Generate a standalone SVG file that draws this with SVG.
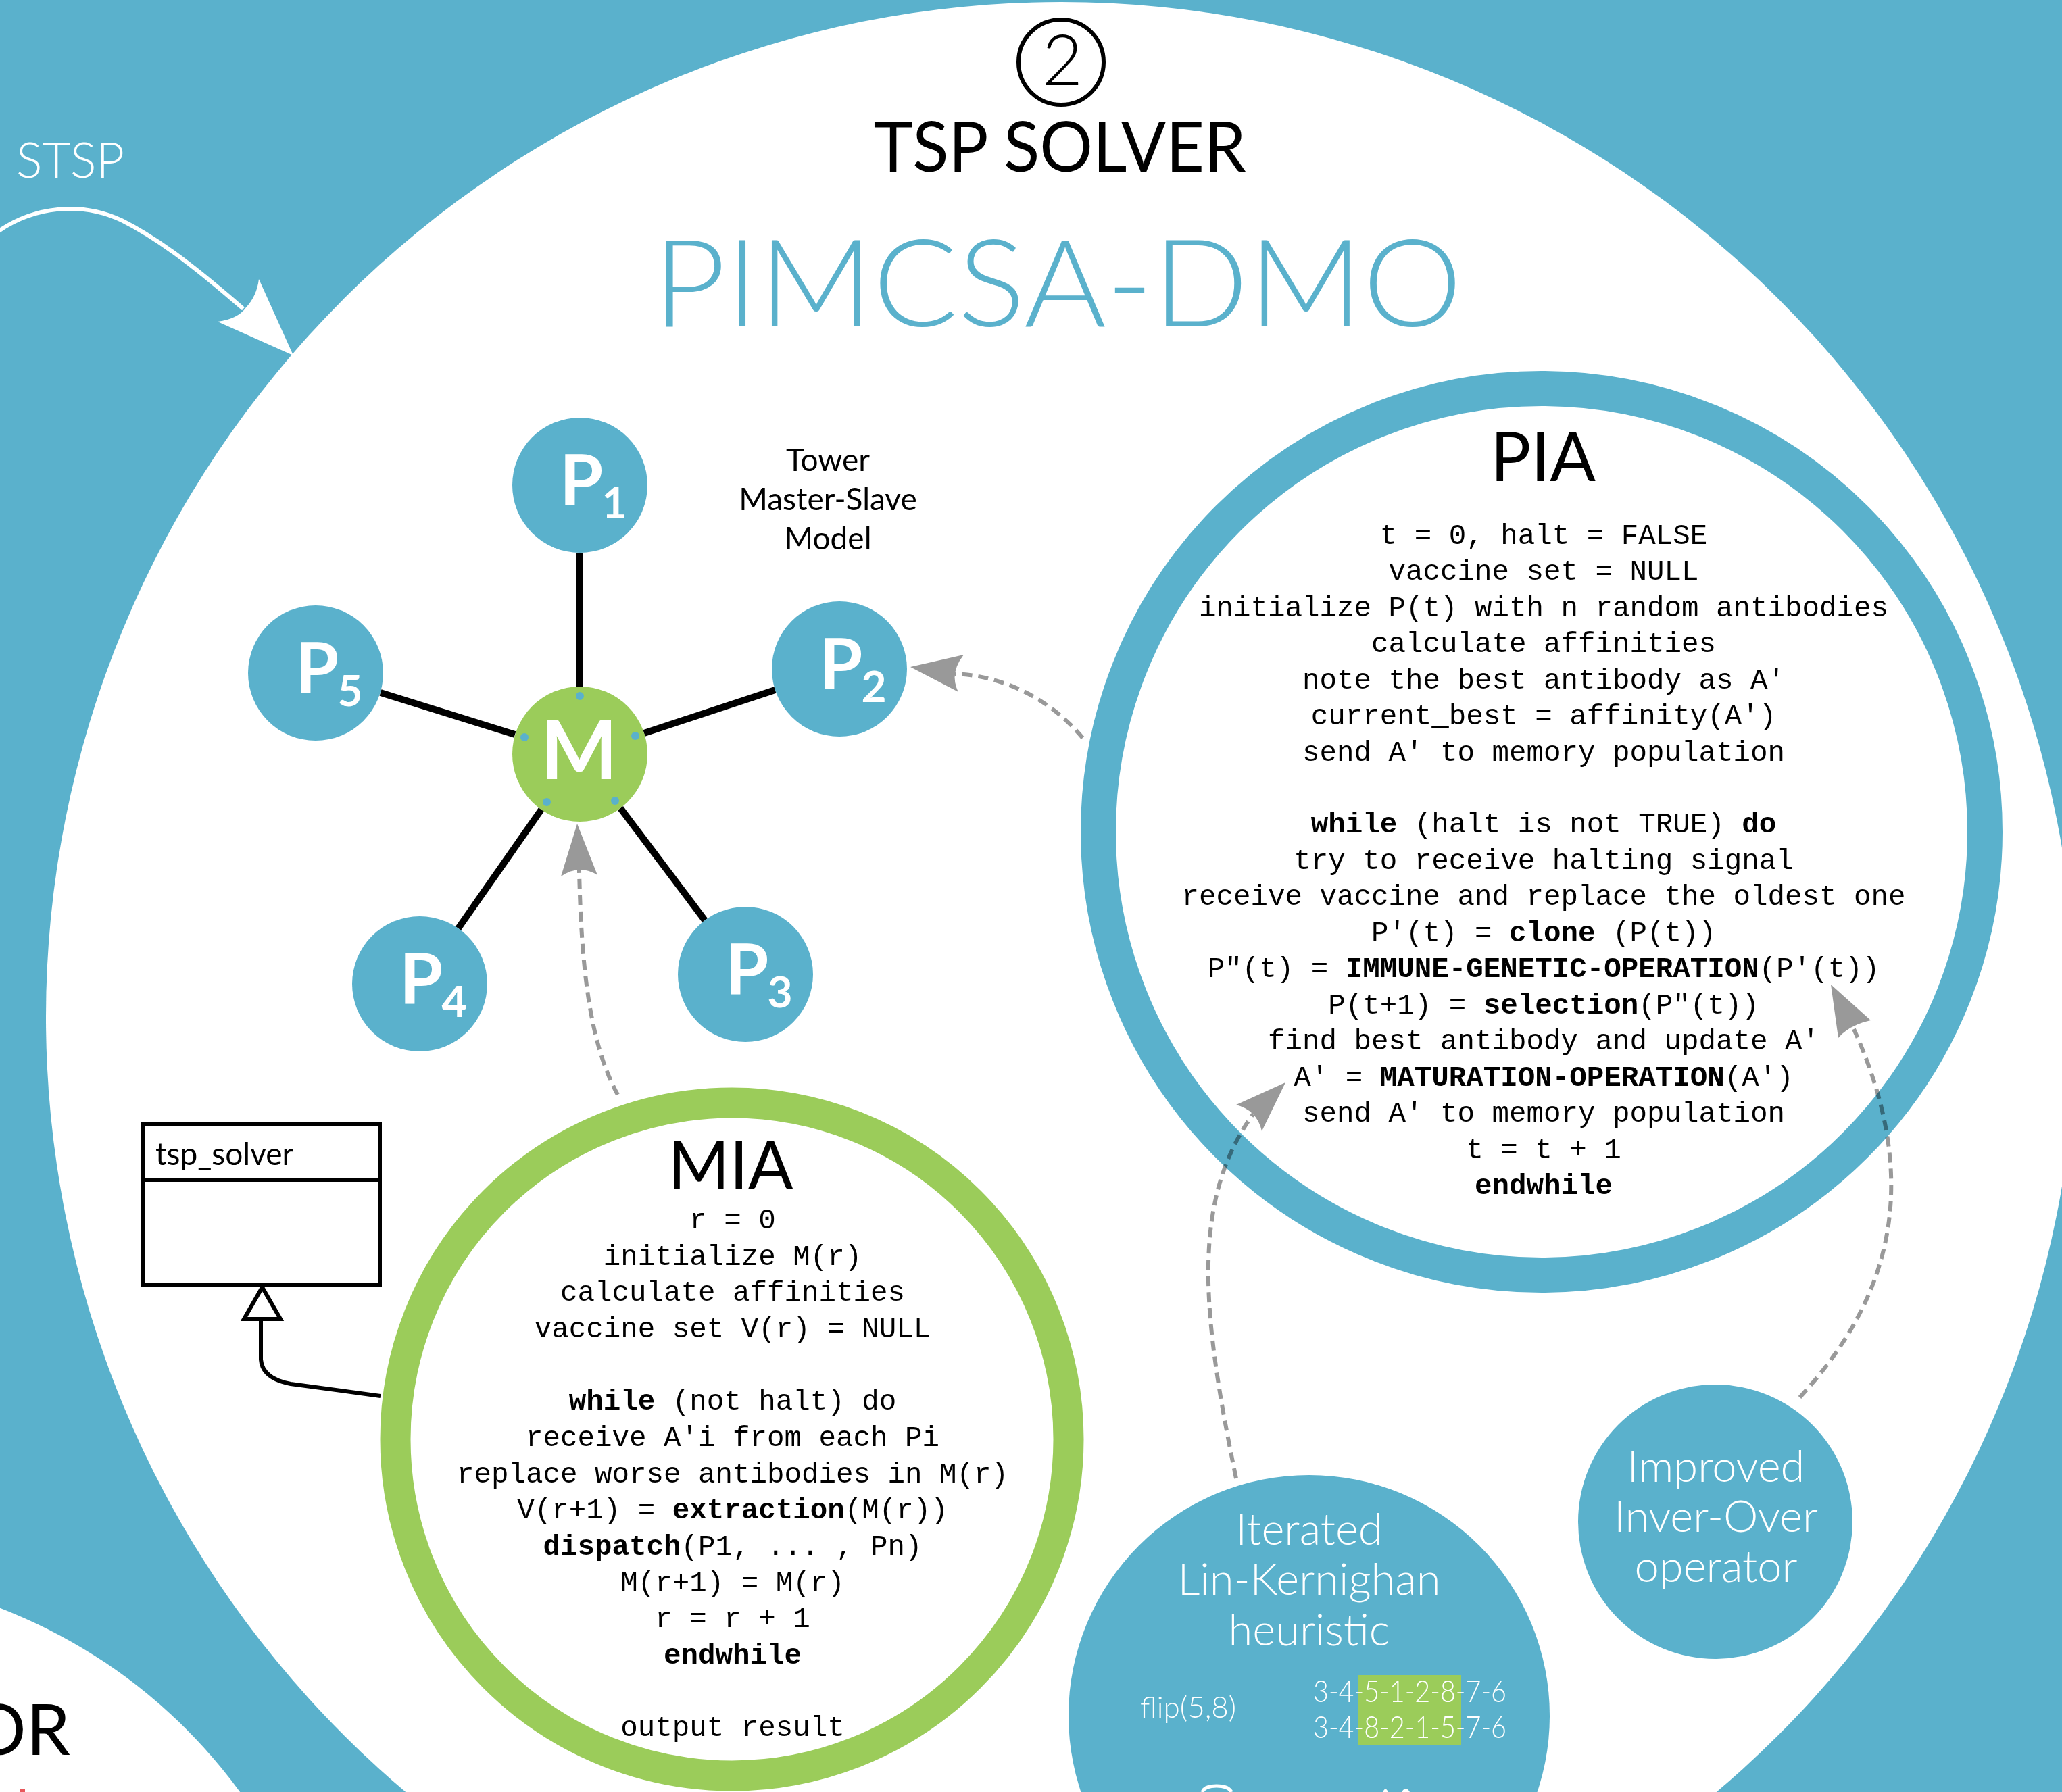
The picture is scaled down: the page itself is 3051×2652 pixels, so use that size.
<svg xmlns="http://www.w3.org/2000/svg" width="3051" height="2652" viewBox="0 0 3051 2652">
<style>
.sans{font-family:Lato,"Open Sans","Liberation Sans",sans-serif}
.light{font-weight:300}
.code{font-family:"Liberation Mono","Courier New",monospace;font-size:42.5px;fill:#000;text-anchor:middle}
.b{font-weight:bold}
.pnode{fill:#5AB1CC}
.plabel{font-family:Lato,"Open Sans","Liberation Sans",sans-serif;font-weight:700;fill:#fff}
.hub{stroke:#000;stroke-width:10;fill:none}
.dash{stroke:#999;stroke-width:6;stroke-dasharray:15 9;fill:none}
.head{fill:#999}
.dot{fill:#5AB1CC}
.wtxt{fill:#fff;text-anchor:middle;font-size:65px}
</style>
<!-- background -->
<rect x="0" y="0" width="3051" height="2652" fill="#5AB1CC"/>
<circle cx="1570" cy="1505" r="1502" fill="#fff"/>
<circle cx="-284" cy="3118" r="791" fill="#fff"/>
<rect x="29" y="2648" width="8" height="4" fill="#E8585C"/>

<!-- STSP input -->
<g id="stsp">
<text x="24" y="263" class="sans light" font-size="72" fill="#fff">STSP</text>
<path d="M-5,344 C50,305 120,298 180,326 C240,356 300,405 360,457" stroke="#fff" stroke-width="6" fill="none"/>
<path d="M434,526 L322,476 Q352,472 364,455 Q380,438 383,413 Z" fill="#fff"/>
</g>

<!-- bottom-left partial label -->
<text x="104" y="2597" class="sans" font-size="104" fill="#000" text-anchor="end">OR</text>

<!-- title -->
<g id="title">
<circle cx="1570" cy="92" r="63" fill="none" stroke="#000" stroke-width="6"/>
<text x="1572" y="126" class="sans light" font-size="104" text-anchor="middle" fill="#000">2</text>
<text x="1568" y="254" class="sans" font-size="103" text-anchor="middle" fill="#000" textLength="551" lengthAdjust="spacingAndGlyphs">TSP SOLVER</text>
<text x="1565" y="483" class="sans light" font-size="180" text-anchor="middle" fill="#5AB1CC" textLength="1197" lengthAdjust="spacingAndGlyphs">PIMCSA-DMO</text>
</g>

<!-- tower model label -->
<g id="tower_label">
<text class="sans" font-size="46" text-anchor="middle" fill="#000"><tspan x="1225" y="697">Tower</tspan><tspan x="1225" y="755">Master-Slave</tspan><tspan x="1225" y="813">Model</tspan></text>
</g>

<!-- hub connectors (master-slave links) -->
<g id="hub_links">
<line class="hub" x1="858" y1="818" x2="858" y2="1016"/>
<line class="hub" x1="953" y1="1085" x2="1147" y2="1021"/>
<line class="hub" x1="918" y1="1196" x2="1043" y2="1362"/>
<line class="hub" x1="801" y1="1198" x2="678" y2="1374"/>
<line class="hub" x1="762" y1="1087" x2="563" y2="1025"/>
</g>

<g id="P1"><circle class="pnode" cx="858" cy="718" r="100"/><text class="plabel" x="828" y="747" font-size="104">P<tspan dx="-2" dy="20" font-size="64">1</tspan></text></g>
<g id="P2"><circle class="pnode" cx="1242" cy="990" r="100"/><text class="plabel" x="1212" y="1019" font-size="104">P<tspan dx="-2" dy="20" font-size="64">2</tspan></text></g>
<g id="P3"><circle class="pnode" cx="1103" cy="1442" r="100"/><text class="plabel" x="1073" y="1471" font-size="104">P<tspan dx="-2" dy="20" font-size="64">3</tspan></text></g>
<g id="P4"><circle class="pnode" cx="621" cy="1456" r="100"/><text class="plabel" x="591" y="1485" font-size="104">P<tspan dx="-2" dy="20" font-size="64">4</tspan></text></g>
<g id="P5"><circle class="pnode" cx="467" cy="996" r="100"/><text class="plabel" x="437" y="1025" font-size="104">P<tspan dx="-2" dy="20" font-size="64">5</tspan></text></g>
<g id="M">
<circle cx="858" cy="1116" r="100" fill="#9BCC5A"/>
<text class="plabel" x="857" y="1153" font-size="120" text-anchor="middle">M</text>
<circle class="dot" cx="858" cy="1030" r="6"/>
<circle class="dot" cx="940" cy="1089" r="6"/>
<circle class="dot" cx="910" cy="1185" r="6"/>
<circle class="dot" cx="809" cy="1187" r="6"/>
<circle class="dot" cx="776" cy="1091" r="6"/>
</g>

<!-- PIA -->
<g id="PIA">
<circle cx="2281" cy="1231" r="656" fill="none" stroke="#5AB1CC" stroke-width="52"/>
<text x="2283" y="712" class="sans" font-size="100" text-anchor="middle" fill="#000">PIA</text>
<text class="code"><tspan x="2284" y="805">t = 0, halt = FALSE</tspan><tspan x="2284" y="858">vaccine set = NULL</tspan><tspan x="2284" y="912">initialize P(t) with n random antibodies</tspan><tspan x="2284" y="965">calculate affinities</tspan><tspan x="2284" y="1019">note the best antibody as A'</tspan><tspan x="2284" y="1072">current_best = affinity(A')</tspan><tspan x="2284" y="1126">send A' to memory population</tspan><tspan x="2284" y="1232"><tspan class="b">while</tspan> (halt is not TRUE) <tspan class="b">do</tspan></tspan><tspan x="2284" y="1286">try to receive halting signal</tspan><tspan x="2284" y="1339">receive vaccine and replace the oldest one</tspan><tspan x="2284" y="1393">P'(t) = <tspan class="b">clone</tspan> (P(t))</tspan><tspan x="2284" y="1446">P"(t) = <tspan class="b">IMMUNE-GENETIC-OPERATION</tspan>(P'(t))</tspan><tspan x="2284" y="1500">P(t+1) = <tspan class="b">selection</tspan>(P"(t))</tspan><tspan x="2284" y="1553">find best antibody and update A'</tspan><tspan x="2284" y="1607">A' = <tspan class="b">MATURATION-OPERATION</tspan>(A')</tspan><tspan x="2284" y="1660">send A' to memory population</tspan><tspan x="2284" y="1714">t = t + 1</tspan><tspan x="2284" y="1767" class="b">endwhile</tspan></text>
</g>

<!-- MIA -->
<g id="MIA">
<circle cx="1083" cy="2130" r="498" fill="none" stroke="#9BCC5A" stroke-width="45"/>
<text x="1081" y="1759" class="sans" font-size="98" text-anchor="middle" fill="#000">MIA</text>
<text class="code"><tspan x="1084" y="1818">r = 0</tspan><tspan x="1084" y="1872">initialize M(r)</tspan><tspan x="1084" y="1925">calculate affinities</tspan><tspan x="1084" y="1979">vaccine set V(r) = NULL</tspan><tspan x="1084" y="2086"><tspan class="b">while</tspan> (not halt) do</tspan><tspan x="1084" y="2140">receive A'i from each Pi</tspan><tspan x="1084" y="2194">replace worse antibodies in M(r)</tspan><tspan x="1084" y="2247">V(r+1) = <tspan class="b">extraction</tspan>(M(r))</tspan><tspan x="1084" y="2301"><tspan class="b">dispatch</tspan>(P1, ... , Pn)</tspan><tspan x="1084" y="2355">M(r+1) = M(r)</tspan><tspan x="1084" y="2408">r = r + 1</tspan><tspan x="1084" y="2462" class="b">endwhile</tspan><tspan x="1084" y="2569">output result</tspan></text>
</g>

<!-- tsp_solver class box -->
<g id="tsp_solver">
<rect x="211" y="1664" width="351" height="237" fill="#fff" stroke="#000" stroke-width="6"/>
<line x1="211" y1="1746" x2="562" y2="1746" stroke="#000" stroke-width="6"/>
<text x="230" y="1724" class="sans" font-size="46" fill="#000">tsp_solver</text>
</g>

<!-- Iterated Lin-Kernighan -->
<g id="ILK">
<circle cx="1937" cy="2539" r="356" fill="#5AB1CC"/>
<text class="sans light wtxt"><tspan x="1937" y="2286">Iterated</tspan><tspan x="1937" y="2360">Lin-Kernighan</tspan><tspan x="1937" y="2435">heuristic</tspan></text>
<rect x="2009" y="2479" width="153" height="104" fill="#9BCC5A"/>
<text x="1687" y="2542" class="sans light" font-size="44" fill="#fff">flip(5,8)</text>
<text x="1943" y="2519" class="sans light" font-size="46" fill="#fff" textLength="286" lengthAdjust="spacingAndGlyphs">3-4-5-1-2-8-7-6</text>
<text x="1943" y="2572" class="sans light" font-size="46" fill="#fff" textLength="286" lengthAdjust="spacingAndGlyphs">3-4-8-2-1-5-7-6</text>
<path d="M1779,2652 Q1782,2643 1800,2643 Q1818,2643 1822,2652" fill="none" stroke="#fff" stroke-width="5"/>
<path d="M2046,2652 Q2050,2643 2054,2652 Z M2074,2652 Q2080,2642 2086,2652 Z" fill="#fff"/>
</g>

<!-- Improved Inver-Over -->
<g id="IIO">
<circle cx="2538" cy="2252" r="203" fill="#5AB1CC"/>
<text class="sans light wtxt" font-size="67"><tspan x="2539" y="2193">Improved</tspan><tspan x="2539" y="2267">Inver-Over</tspan><tspan x="2539" y="2341">operator</tspan></text>
</g>

<!-- connectors -->
<g id="connectors" style="mix-blend-mode:multiply">
<path d="M386,1952 L386,2012 Q388,2040 430,2048 L563,2066" fill="none" stroke="#000" stroke-width="6"/>
<path d="M388,1905 L361,1952 L415,1952 Z" fill="#fff" stroke="#000" stroke-width="6" stroke-linejoin="miter"/>
<path class="dash" d="M914,1620 C870,1540 860,1420 857,1288"/>
<path class="head" d="M854,1219 L830,1297 Q857,1278 884,1295 Z"/>
<path class="dash" d="M1602,1092 C1550,1030 1480,1000 1413,997"/>
<path class="head" d="M1347,987 L1426,969 Q1404,997 1418,1024 Z"/>
<path class="dash" d="M1829,2188 C1780,1950 1760,1780 1854,1649"/>
<path class="head" d="M1902,1602 L1829,1635 Q1860,1643 1867,1674 Z"/>
<path class="dash" d="M2663,2068 C2790,1930 2850,1760 2743,1523"/>
<path class="head" d="M2709,1457 L2720,1536 Q2736,1517 2768,1510 Z"/>
</g>
</svg>
